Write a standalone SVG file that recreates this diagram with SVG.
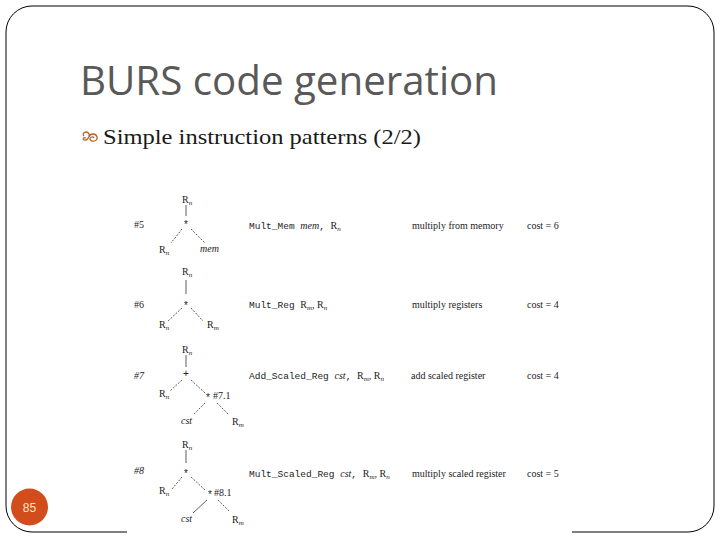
<svg xmlns="http://www.w3.org/2000/svg" width="720" height="540" viewBox="0 0 720 540">
<style>
.t{font-family:"Liberation Serif",serif;font-size:10px;fill:#222}
.m{font-family:"Liberation Mono",monospace;font-size:9.5px;fill:#222}
.i{font-style:italic}
.s{font-size:7px;font-style:italic}
.op{font-family:"Liberation Sans",sans-serif;font-size:10px;fill:#222;text-anchor:middle}
.ln{stroke:#333;stroke-width:0.8;fill:none}
.dl{stroke:#333;stroke-width:0.8;fill:none;stroke-dasharray:2 1.4}
</style>
<rect width="720" height="540" fill="#fff"/>
<rect id="frame" x="6" y="6" width="708" height="526" rx="26" ry="26" fill="none" stroke="#000" stroke-width="1"/>
<rect x="127" y="182" width="445" height="358" fill="#fff"/>
<text id="title" x="80" y="95" font-family="'Open Sans','Noto Sans',sans-serif" font-size="41" fill="#595959" textLength="418" lengthAdjust="spacingAndGlyphs">BURS code generation</text>
<g id="bullet">
<path d="M84,136 c-3,-3 3,-6 5,-2 c1,3 -2,7 -5,6 c-2,-1 0,-3 2,-2 M89,137 c1,-4 7,-4 8,0 c1,4 -6,6 -7,2 c0,-2 3,-3 4,-1" fill="none" stroke="#b5652f" stroke-width="1.3"/>
<text x="103" y="144" font-family="'Liberation Serif',serif" font-size="21" fill="#1a1a1a" textLength="318" lengthAdjust="spacingAndGlyphs">Simple instruction patterns (2/2)</text>
</g>
<g id="connectors">
<line class="ln" x1="186" y1="205" x2="186" y2="216"/>
<line class="dl" x1="182" y1="229" x2="171" y2="243"/>
<line class="dl" x1="191" y1="229" x2="205" y2="243"/>
<line class="ln" x1="186" y1="280" x2="186" y2="294"/>
<line class="dl" x1="182" y1="308" x2="168" y2="321"/>
<line class="dl" x1="191" y1="308" x2="203" y2="321"/>
<line class="ln" x1="186" y1="355" x2="186" y2="367"/>
<line class="dl" x1="182" y1="380" x2="170" y2="391"/>
<line class="dl" x1="191" y1="380" x2="205" y2="393"/>
<line class="dl" x1="205" y1="403" x2="193" y2="415"/>
<line class="dl" x1="217" y1="403" x2="229" y2="415"/>
<line class="ln" x1="186" y1="450" x2="186" y2="463"/>
<line class="dl" x1="182" y1="477" x2="172" y2="489"/>
<line class="dl" x1="191" y1="477" x2="205" y2="490"/>
<line class="ln" x1="207" y1="500" x2="193" y2="513"/>
<line class="dl" x1="218" y1="500" x2="230" y2="512"/>
</g>
<g id="row5">
<text class="t" x="134" y="228">#5</text>
<text class="t" x="182" y="203">R<tspan class="s" dy="2">n</tspan></text>
<text class="op" x="186" y="228">*</text>
<text class="t" x="159" y="253">R<tspan class="s" dy="2">n</tspan></text>
<text class="t i" x="200" y="252">mem</text>
<text class="m" x="249" y="229">Mult_Mem <tspan class="t i">mem</tspan>, <tspan class="t">R<tspan class="s" dy="2">n</tspan></tspan></text>
<text class="t" x="412" y="229">multiply from memory</text>
<text class="t" x="527" y="229">cost = 6</text>
</g>
<g id="row6">
<text class="t" x="134" y="308">#6</text>
<text class="t" x="182" y="275">R<tspan class="s" dy="2">n</tspan></text>
<text class="op" x="186" y="309">*</text>
<text class="t" x="159" y="328">R<tspan class="s" dy="2">n</tspan></text>
<text class="t" x="207" y="328">R<tspan class="s" dy="2">m</tspan></text>
<text class="m" x="249" y="308">Mult_Reg <tspan class="t">R<tspan class="s" dy="2">m</tspan><tspan dy="-2">, R</tspan><tspan class="s" dy="2">n</tspan></tspan></text>
<text class="t" x="412" y="308">multiply registers</text>
<text class="t" x="527" y="308">cost = 4</text>
</g>
<g id="row7">
<text class="t i" x="134" y="379">#7</text>
<text class="t" x="182" y="353">R<tspan class="s" dy="2">n</tspan></text>
<text class="op" x="186" y="377">+</text>
<text class="t" x="159" y="397">R<tspan class="s" dy="2">n</tspan></text>
<text class="op" x="208" y="401">*</text>
<text class="t" x="213" y="399">#7.1</text>
<text class="t i" x="181" y="424">cst</text>
<text class="t" x="232" y="425">R<tspan class="s" dy="2">m</tspan></text>
<text class="m" x="249" y="379">Add_Scaled_Reg <tspan class="t i">cst</tspan>, <tspan class="t">R<tspan class="s" dy="2">m</tspan><tspan dy="-2">, R</tspan><tspan class="s" dy="2">n</tspan></tspan></text>
<text class="t" x="411" y="379">add scaled register</text>
<text class="t" x="527" y="379">cost = 4</text>
</g>
<g id="row8">
<text class="t i" x="134" y="474">#8</text>
<text class="t" x="182" y="448">R<tspan class="s" dy="2">n</tspan></text>
<text class="op" x="186" y="477">*</text>
<text class="t" x="159" y="494">R<tspan class="s" dy="2">n</tspan></text>
<text class="op" x="210" y="498">*</text>
<text class="t" x="214" y="496">#8.1</text>
<text class="t i" x="181" y="522">cst</text>
<text class="t" x="232" y="523">R<tspan class="s" dy="2">m</tspan></text>
<text class="m" x="249" y="477">Mult_Scaled_Reg <tspan class="t i">cst</tspan>, <tspan class="t">R<tspan class="s" dy="2">m</tspan><tspan dy="-2">, R</tspan><tspan class="s" dy="2">n</tspan></tspan></text>
<text class="t" x="412" y="477">multiply scaled register</text>
<text class="t" x="527" y="477">cost = 5</text>
</g>
<g id="pagenum">
<circle cx="29.5" cy="507" r="18.5" fill="#d14d1c"/>
<text x="29.5" y="511.5" text-anchor="middle" font-family="'Liberation Sans',sans-serif" font-size="12" fill="#fbe6c4">85</text>
</g>
</svg>
